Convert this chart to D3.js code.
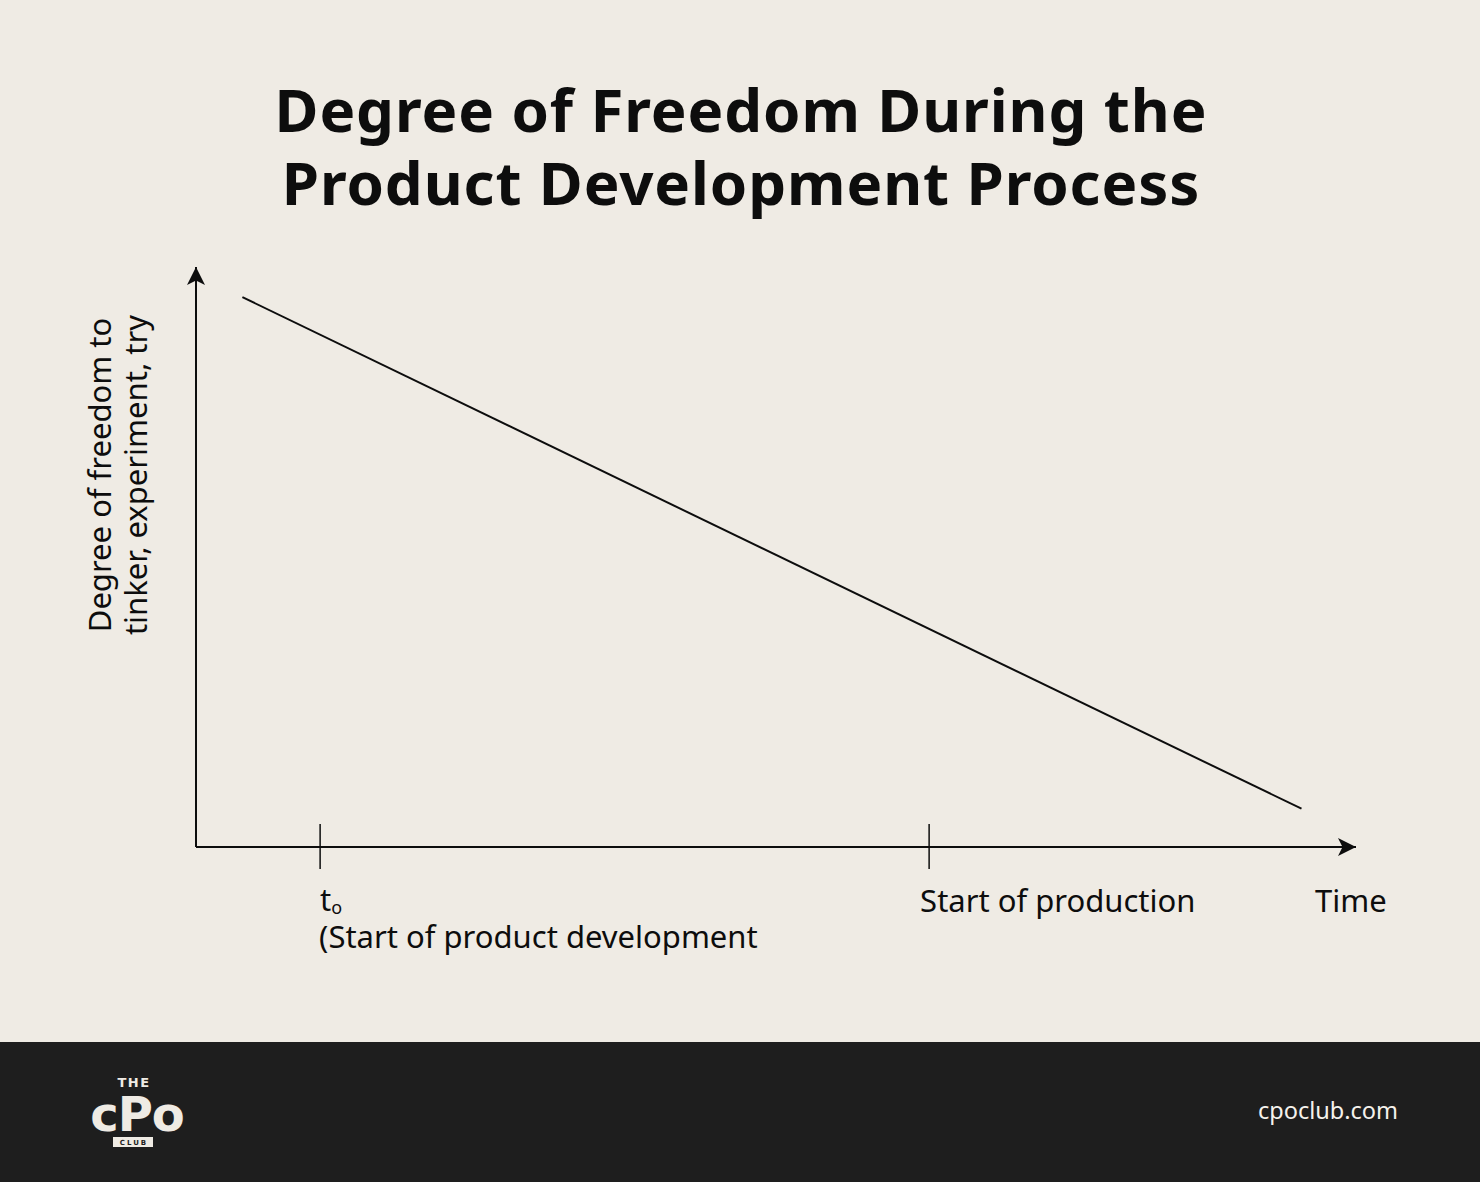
<!DOCTYPE html>
<html>
<head>
<meta charset="utf-8">
<script src="https://cdn.jsdelivr.net/npm/d3@7"></script>
<style>
  html, body { margin: 0; padding: 0; background: #efebe4; }
  svg { display: block; }
</style>
</head>
<body>
<div id="chart"></div>
<script>
const W = 1480;
const H = 1182;

// Values (time and freedom on a 0–100 scale)
const lineTimes = [4, 95.3];
const lineFreedom = [94.8, 6.6];
const tickTimes = [10.7, 63.2];
const tickLabels = ["t", "Start of production"];
const titleLines = ["Degree of Freedom During the", "Product Development Process"];
const yLabelLines = ["Degree of freedom to", "tinker, experiment, try"];

const BG = "#efebe4";
const INK = "#0d0d0d";
const FOOT = "#1e1e1e";
const FONT = "'Noto Sans', 'Open Sans', sans-serif";

const svg = d3.select("#chart").append("svg")
  .attr("width", W).attr("height", H)
  .attr("viewBox", `0 0 ${W} ${H}`);

svg.append("rect").attr("width", W).attr("height", H).attr("fill", BG);

// title
svg.append("g").selectAll("text")
  .data(titleLines)
  .join("text")
  .attr("x", 741)
  .attr("y", (d, i) => 132 + i * 73)
  .attr("text-anchor", "middle")
  .attr("font-family", FONT)
  .attr("font-weight", 700)
  .attr("font-size", 60)
  .attr("letter-spacing", 0.9)
  .attr("fill", INK)
  .text(d => d);

const x = d3.scaleLinear().domain([0, 100]).range([196, 1356]);
const y = d3.scaleLinear().domain([0, 100]).range([847, 267]);

const defs = svg.append("defs");
defs.append("marker")
  .attr("id", "arrow")
  .attr("viewBox", "0 0 10 10")
  .attr("refX", 10).attr("refY", 5)
  .attr("markerWidth", 18).attr("markerHeight", 18)
  .attr("markerUnits", "userSpaceOnUse")
  .attr("orient", "auto")
  .append("path")
  .attr("d", "M0,0 L10,5 L0,10 L2.5,5 Z")
  .attr("fill", INK);

// axes
svg.append("line")
  .attr("x1", x(0)).attr("y1", y(0))
  .attr("x2", x(0)).attr("y2", y(100))
  .attr("stroke", INK).attr("stroke-width", 2)
  .attr("marker-end", "url(#arrow)");

svg.append("line")
  .attr("x1", x(0)).attr("y1", y(0))
  .attr("x2", x(100)).attr("y2", y(0))
  .attr("stroke", INK).attr("stroke-width", 2)
  .attr("marker-end", "url(#arrow)");

// ticks
svg.append("g").selectAll("line")
  .data(tickTimes)
  .join("line")
  .attr("x1", d => x(d)).attr("x2", d => x(d))
  .attr("y1", y(0) - 23).attr("y2", y(0) + 22)
  .attr("stroke", INK).attr("stroke-width", 1.5);

// the freedom line
const pts = lineTimes.map((t, i) => [t, lineFreedom[i]]);
svg.append("path")
  .datum(pts)
  .attr("d", d3.line().x(d => x(d[0])).y(d => y(d[1])))
  .attr("fill", "none")
  .attr("stroke", INK)
  .attr("stroke-width", 2);

// tick labels
const lab = svg.append("g")
  .attr("font-family", FONT)
  .attr("font-size", 31)
  .attr("fill", INK);

// t0 label as one text block (two lines)
const t0 = lab.append("text")
  .attr("x", x(tickTimes[0]))
  .attr("y", 911);
t0.append("tspan").text(tickLabels[0]);
t0.append("tspan").attr("font-size", 18).attr("dy", 3).text("o");
t0.append("tspan")
  .attr("x", x(tickTimes[0]) - 1)
  .attr("dy", 34)
  .text("(Start of product development");

lab.append("text")
  .attr("x", x(tickTimes[1]) - 9)
  .attr("y", 912)
  .text(tickLabels[1]);

lab.append("text")
  .attr("x", 1315)
  .attr("y", 912)
  .text("Time");

// y label
svg.append("g")
  .attr("transform", "translate(111,475) rotate(-90)")
  .selectAll("text")
  .data(yLabelLines)
  .join("text")
  .attr("x", 0)
  .attr("y", (d, i) => i * 36)
  .attr("text-anchor", "middle")
  .attr("font-family", FONT)
  .attr("font-size", 31)
  .attr("fill", INK)
  .text(d => d);

// footer
svg.append("rect")
  .attr("x", 0).attr("y", 1042)
  .attr("width", W).attr("height", H - 1042)
  .attr("fill", FOOT);

svg.append("rect")
  .attr("x", 113).attr("y", 1137)
  .attr("width", 40).attr("height", 10)
  .attr("fill", BG);

// logo as a single text block
const logo = svg.append("text")
  .attr("font-family", "'DejaVu Sans', sans-serif")
  .attr("font-weight", 700)
  .attr("text-anchor", "middle")
  .attr("fill", BG);
logo.append("tspan")
  .attr("x", 134).attr("y", 1087)
  .attr("font-size", 13)
  .attr("letter-spacing", 1.5)
  .text("THE");
logo.append("tspan")
  .attr("x", 137).attr("y", 1131)
  .attr("font-size", 48)
  .attr("letter-spacing", -1)
  .text("cPo");
logo.append("tspan")
  .attr("x", 134).attr("y", 1145)
  .attr("font-size", 7)
  .attr("letter-spacing", 2)
  .attr("fill", FOOT)
  .text("CLUB");

svg.append("text")
  .attr("x", 1398).attr("y", 1119)
  .attr("text-anchor", "end")
  .attr("font-family", FONT)
  .attr("font-size", 23.5)
  .attr("fill", "#f5f2ec")
  .text("cpoclub.com");
</script>
</body>
</html>
